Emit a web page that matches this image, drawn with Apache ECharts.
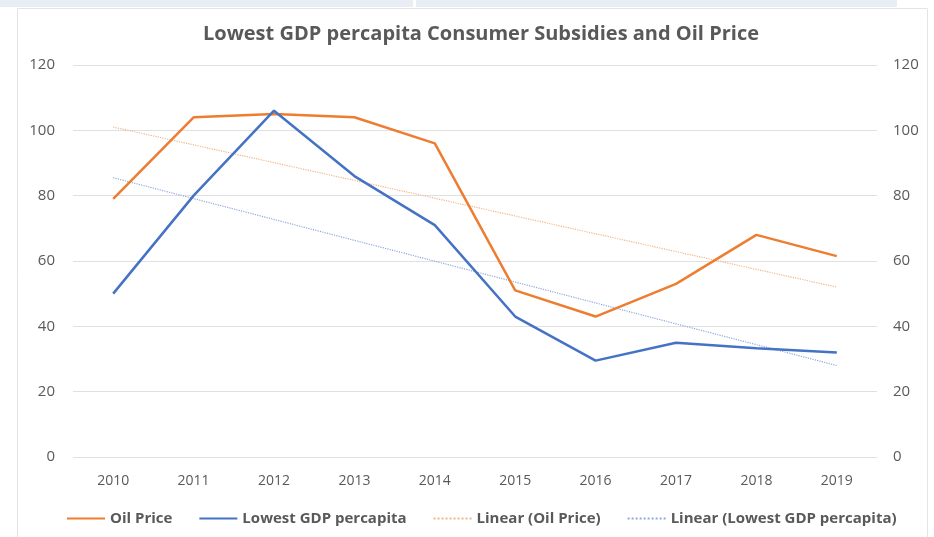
<!DOCTYPE html>
<html lang="en">
<head>
    <meta charset="UTF-8">
    <title>Lowest GDP percapita Consumer Subsidies and Oil Price</title>
    <script src="https://cdn.jsdelivr.net/npm/echarts@6/dist/echarts.min.js"></script>
    <style>
        body { margin: 0; background: #fff; }
        #main { width: 934px; height: 537px; }
    </style>
</head>
<body>
<div id="main"></div>
<script>
    // data
    let years = ['2010', '2011', '2012', '2013', '2014', '2015', '2016', '2017', '2018', '2019'];
    let oilPrice = [79, 104, 105, 104, 96, 51, 43, 53, 68, 61.5];
    let lowestGdp = [50, 80, 106, 86, 71, 43, 29.5, 35, 33.3, 32];
    // trend lines, only the two ends are read, the line joins them
    let oilTrend = [101, null, null, null, null, null, null, null, null, 52];
    let gdpTrend = [85.5, null, null, null, null, null, null, null, null, 28];

    var chartDom = document.getElementById('main');
    var myChart = echarts.init(chartDom);
    var font = 'Open Sans';
    var grey = '#595959';

    var option = {
        backgroundColor: '#fff',
        graphic: [
            // grey bar at the very top and the chart box edge
            { type: 'rect', shape: { x: 0, y: 0, width: 413, height: 7 }, style: { fill: '#e9edf5' }, silent: true },
            { type: 'rect', shape: { x: 416, y: 0, width: 481, height: 7 }, style: { fill: '#e9edf5' }, silent: true },
            { type: 'rect', shape: { x: 17.5, y: 8.5, width: 910, height: 540 }, style: { fill: 'none', stroke: '#e4e4e4', lineWidth: 1 }, silent: true }
        ],
        title: {
            text: 'Lowest GDP percapita Consumer Subsidies and Oil Price',
            left: 476,
            textAlign: 'center',
            top: 19,
            textStyle: { fontFamily: font, fontSize: 20, fontWeight: 'bold', color: grey }
        },
        legend: {
            bottom: 6,
            left: 61,
            itemWidth: 38,
            itemHeight: 10,
            itemGap: 26,
            itemStyle: { opacity: 0 },
            textStyle: { fontFamily: font, fontSize: 15, color: grey, fontWeight: 'bold' },
            data: ['Oil Price', 'Lowest GDP percapita', 'Linear (Oil Price)', 'Linear (Lowest GDP percapita)']
        },
        grid: { left: 73, right: 57, top: 65, bottom: 80 },
        xAxis: {
            type: 'category',
            data: years,
            boundaryGap: true,
            axisLine: { show: false },
            axisTick: { show: false },
            axisLabel: { fontFamily: font, fontSize: 14, color: grey, margin: 17 }
        },
        yAxis: [
            {
                type: 'value', min: 0, max: 120, interval: 20,
                axisLine: { show: false }, axisTick: { show: false },
                axisLabel: { fontFamily: font, fontSize: 15, color: grey, margin: 18 },
                splitLine: { lineStyle: { color: '#e0e0e0', width: 1 } }
            },
            {
                type: 'value', min: 0, max: 120, interval: 20,
                axisLine: { show: false }, axisTick: { show: false },
                axisLabel: { fontFamily: font, fontSize: 15, color: grey, margin: 16 },
                splitLine: { show: false }
            }
        ],
        series: [
            {
                name: 'Oil Price', type: 'line', data: oilPrice, symbol: 'none',
                lineStyle: { color: '#ed7d31', width: 2.5 }, itemStyle: { color: '#ed7d31' }, z: 4
            },
            {
                name: 'Lowest GDP percapita', type: 'line', data: lowestGdp, symbol: 'none',
                lineStyle: { color: '#4472c4', width: 2.5 }, itemStyle: { color: '#4472c4' }, z: 5
            },
            {
                name: 'Linear (Oil Price)', type: 'line', yAxisIndex: 1, data: oilTrend, connectNulls: true, symbol: 'none',
                lineStyle: { color: '#f2b48a', width: 1.2, type: 'dotted' }, itemStyle: { color: '#f2b48a' }, z: 3
            },
            {
                name: 'Linear (Lowest GDP percapita)', type: 'line', yAxisIndex: 1, data: gdpTrend, connectNulls: true, symbol: 'none',
                lineStyle: { color: '#8ea8dc', width: 1.2, type: 'dotted' }, itemStyle: { color: '#8ea8dc' }, z: 3
            }
        ]
    };
    option && myChart.setOption(option);
</script>
</body>
</html>
